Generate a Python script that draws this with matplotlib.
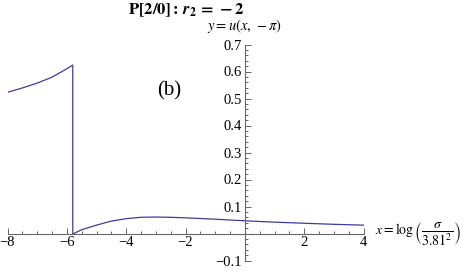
import numpy as np
import matplotlib.pyplot as plt
from matplotlib.ticker import MultipleLocator, FixedLocator

plt.rcParams['font.family'] = ['Liberation Serif', 'DejaVu Serif']
plt.rcParams['mathtext.fontset'] = 'stix'

# curve (jump at x ~ -5.8)
x_left = [-8.0, -7.5, -7.0, -6.5, -6.0, -5.8]
y_left = [0.523, 0.539, 0.557, 0.579, 0.610, 0.624]
x_right = [-5.8, -5.5, -5.0, -4.5, -4.0, -3.5, -3.0, -2.5, -2.0, -1.0, 0.0, 1.0, 2.0, 3.0, 4.0]
y_right = [-0.002, 0.014, 0.031, 0.046, 0.055, 0.060, 0.061, 0.060, 0.058, 0.053, 0.047, 0.042, 0.038, 0.034, 0.031]

xticks = [-8, -6, -4, -2, 2, 4]
yticks = [-0.1, 0.1, 0.2, 0.3, 0.4, 0.5, 0.6, 0.7]

fig = plt.figure(figsize=(4.63, 2.71), dpi=100)
ax = fig.add_axes([7.5/463, 10.5/271, 356/463, 216/271])

ax.plot(x_left + x_right, y_left + y_right, color='#3d3d99', lw=0.9)

ax.set_xlim(-8, 4)
ax.set_ylim(-0.1, 0.7)
for s in ['top', 'right']:
    ax.spines[s].set_visible(False)
ax.spines['left'].set_position(('data', 0))
ax.spines['bottom'].set_position(('data', 0))
for s in ['left', 'bottom']:
    ax.spines[s].set_color('#666666')
    ax.spines[s].set_linewidth(0.8)

ax.xaxis.set_major_locator(FixedLocator(xticks))
ax.yaxis.set_major_locator(FixedLocator(yticks))
ax.xaxis.set_minor_locator(MultipleLocator(0.5))
ax.yaxis.set_minor_locator(MultipleLocator(0.02))
ax.set_xticklabels(['\u2212' + str(-t) if t < 0 else str(t) for t in xticks])
ax.set_yticklabels(['\u22120.1' if t < 0 else '%.1f' % t for t in yticks])
ax.tick_params(which='both', direction='in', color='#666666', width=0.7, labelsize=10.5, pad=2)
ax.tick_params(which='major', length=4)
ax.tick_params(which='minor', length=2)

ax.text(-2.55, 0.53, '(b)', fontsize=15, ha='center', va='center')
ax.text(4.4, 0.0, r'$x = \log\left(\dfrac{\sigma}{3.81^2}\right)$', fontsize=10,
        ha='left', va='center', clip_on=False)
fig.text(245/463, 1 - 26/271, r'$y = u(x,\,-\pi)$', fontsize=10.5, ha='center', va='center')
fig.text(186/463, 1 - 10/271, r'$\mathbf{P[2/0]:}\,\mathbfit{r}_\mathbf{2}\mathbf{\,=\,-2}$',
         fontsize=12, ha='center', va='center')

fig.savefig('out.png', dpi=100)
